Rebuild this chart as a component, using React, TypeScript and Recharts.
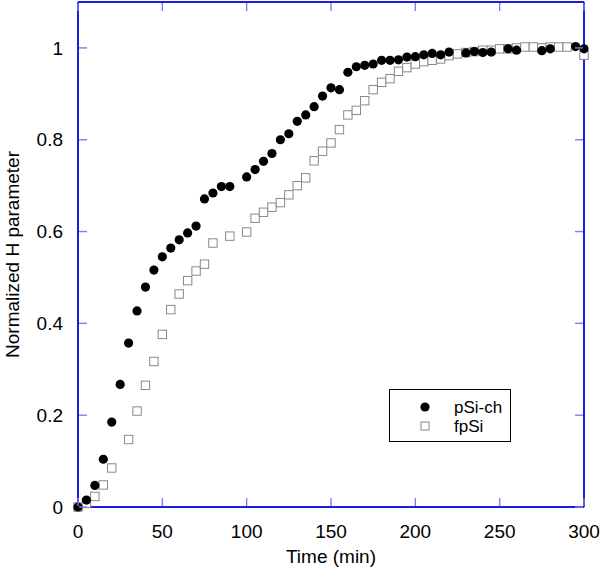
import React from "react";
import { ScatterChart, Scatter, XAxis, YAxis, Legend } from "recharts";

const pSiTime = [
  0, 5, 10, 15, 20, 25, 30, 35, 40, 45, 50, 55, 60, 65, 70, 75, 80, 85, 90,
  100, 105, 110, 115, 120, 125, 130, 135, 140, 145, 150, 155, 160, 165, 170,
  175, 180, 185, 190, 195, 200, 205, 210, 215, 220, 230, 235, 240, 245, 255,
  260, 275, 280, 295, 300,
];
const pSiValue = [
  0, 0.015, 0.047, 0.104, 0.185, 0.267, 0.357, 0.427, 0.479, 0.516, 0.545,
  0.564, 0.582, 0.597, 0.612, 0.671, 0.684, 0.698, 0.698, 0.719, 0.735, 0.753,
  0.77, 0.8, 0.813, 0.84, 0.854, 0.872, 0.895, 0.913, 0.909, 0.947, 0.959,
  0.962, 0.965, 0.973, 0.973, 0.974, 0.98, 0.981, 0.985, 0.988, 0.985, 0.991,
  0.989, 0.992, 0.99, 0.991, 0.998, 0.995, 0.994, 0.998, 1.003, 0.998,
];

const fpSiTime = [
  0, 5, 10, 15, 20, 30, 35, 40, 45, 50, 55, 60, 65, 70, 75, 80, 90, 100, 105,
  110, 115, 120, 125, 130, 135, 140, 145, 150, 155, 160, 165, 170, 175, 180,
  185, 190, 195, 200, 205, 210, 215, 220, 225, 230, 235, 240, 245, 250, 255,
  260, 265, 270, 275, 280, 285, 290, 300,
];
const fpSiValue = [
  0, 0.008, 0.023, 0.048, 0.085, 0.147, 0.209, 0.265, 0.317, 0.376, 0.43,
  0.464, 0.493, 0.514, 0.529, 0.575, 0.59, 0.599, 0.629, 0.642, 0.653, 0.663,
  0.68, 0.7, 0.717, 0.754, 0.775, 0.793, 0.822, 0.854, 0.864, 0.885, 0.909,
  0.925, 0.933, 0.949, 0.957, 0.965, 0.97, 0.973, 0.976, 0.983, 0.987, 0.99,
  0.992, 0.995, 0.995, 0.998, 0.998, 1.0, 1.002, 1.002, 1.0, 1.002, 1.002,
  1.002, 0.984,
];

const xTicks = [0, 50, 100, 150, 200, 250, 300];
const yTicks = [0, 0.2, 0.4, 0.6, 0.8, 1];

const pSiData = pSiTime.map((t, i) => ({ t, v: pSiValue[i] }));
const fpSiData = fpSiTime.map((t, i) => ({ t, v: fpSiValue[i] }));

const FONT = "'Liberation Sans', Arial, sans-serif";
const FRAME = "#1c1ce6";
const TICK = "#7f7ff2";
const TICK_LEN = 8;
const TICK_W = 1.4;
const X_GAP = 17.5;
const Y_GAP = 15;

const Dot = (props: any) => (
  <circle cx={props.cx} cy={props.cy} r={4.6} fill="#000" />
);

const Square = (props: any) => (
  <rect
    x={props.cx - 4.2}
    y={props.cy - 4.2}
    width={8.4}
    height={8.4}
    fill="#fff"
    stroke="#888"
    strokeWidth={1}
  />
);

// inward tick marks drawn as thin rects
const VTick = ({ x, y0, dir }: { x: number; y0: number; dir: number }) => (
  <rect
    x={x - TICK_W / 2}
    y={dir > 0 ? y0 : y0 - TICK_LEN}
    width={TICK_W}
    height={TICK_LEN}
    fill={TICK}
  />
);
const HTick = ({ y, x0, dir }: { y: number; x0: number; dir: number }) => (
  <rect
    x={dir > 0 ? x0 : x0 - TICK_LEN}
    y={y - TICK_W / 2}
    width={TICK_LEN}
    height={TICK_W}
    fill={TICK}
  />
);

// label plus inward tick, bottom axis
const BottomTick = (p: any) => {
  const axisY = p.y - X_GAP;
  return (
    <g>
      <VTick x={p.x} y0={axisY - 1} dir={-1} />
      <text x={p.x} y={p.y} dy="0.71em" textAnchor="middle" fontSize={19} fontFamily={FONT} fill="#000">
        {p.payload.value}
      </text>
    </g>
  );
};

// label plus inward tick, left axis
const LeftTick = (p: any) => {
  const axisX = p.x + Y_GAP;
  return (
    <g>
      <HTick y={p.y} x0={axisX + 1} dir={1} />
      <text x={p.x} y={p.y} dy="0.355em" textAnchor="end" fontSize={19} fontFamily={FONT} fill="#000">
        {p.payload.value}
      </text>
    </g>
  );
};

const TopTick = (p: any) => <VTick x={p.x} y0={p.y + 1} dir={1} />;

const RightTick = (p: any) => <HTick y={p.y} x0={p.x - 1} dir={-1} />;

const Nothing = () => <g />;

const renderLegend = () => (
  <div
    style={{
      position: "relative",
      width: 122,
      height: 53,
      boxSizing: "border-box",
      border: "1.5px solid #000",
      background: "#fff",
    }}
  >
    <svg width={120} height={50} style={{ position: "absolute", left: 0, top: 0 }}>
      <circle cx={35} cy={17} r={4.6} fill="#000" />
      <rect x={31} y={32} width={8} height={8} fill="#fff" stroke="#888" />
      <text x={64} y={23} fontSize={17} fontFamily={FONT}>pSi-ch</text>
      <text x={64} y={42} fontSize={17} fontFamily={FONT}>fpSi</text>
    </svg>
  </div>
);

export default function App() {
  return (
    <div style={{ position: "absolute", left: 0, top: 0 }}>
      <ScatterChart
        width={600}
        height={570}
        margin={{ top: 2, right: 16, bottom: 3, left: 0 }}
        style={{ fontFamily: FONT }}
      >
        <XAxis
          xAxisId="bottom"
          type="number"
          dataKey="t"
          domain={[0, 300]}
          ticks={xTicks}
          height={60}
          axisLine={{ stroke: FRAME, strokeWidth: 2 }}
          tickLine={false}
          tickSize={0}
          tickMargin={X_GAP}
          tick={BottomTick}
          label={{
            value: "Time (min)",
            position: "insideBottom",
            offset: 4,
            fill: "#000",
            fontSize: 19,
          }}
        />
        <YAxis
          yAxisId="left"
          type="number"
          dataKey="v"
          domain={[0, 1.1]}
          ticks={yTicks}
          width={78}
          axisLine={{ stroke: FRAME, strokeWidth: 2 }}
          tickLine={false}
          tickSize={0}
          tickMargin={Y_GAP}
          tick={LeftTick}
          label={{
            content: (p: any) => {
              const vb = p.viewBox;
              const cx = vb.x + 19;
              const cy = vb.y + vb.height / 2;
              return (
                <text
                  x={cx}
                  y={cy}
                  transform={`rotate(-90 ${cx} ${cy})`}
                  textAnchor="middle"
                  fontSize={19}
                  fontFamily={FONT}
                  fill="#000"
                >
                  Normalized H parameter
                </text>
              );
            },
          }}
        />
        <XAxis
          xAxisId="top"
          orientation="top"
          type="number"
          dataKey="t"
          domain={[0, 300]}
          ticks={xTicks}
          mirror
          axisLine={{ stroke: FRAME, strokeWidth: 2 }}
          tickLine={false}
          tickSize={0}
          tickMargin={0}
          tick={TopTick}
        />
        <YAxis
          yAxisId="right"
          orientation="right"
          type="number"
          dataKey="v"
          domain={[0, 1.1]}
          ticks={yTicks}
          mirror
          axisLine={{ stroke: FRAME, strokeWidth: 2 }}
          tickLine={false}
          tickSize={0}
          tickMargin={0}
          tick={RightTick}
        />
        <Legend
          layout="vertical"
          align="center"
          verticalAlign="middle"
          content={renderLegend}
          wrapperStyle={{ left: 389, top: 389, width: 122, height: 53 }}
        />
        <Scatter
          data={fpSiData}
          xAxisId="top"
          yAxisId="right"
          shape={Nothing}
          legendType="none"
          isAnimationActive={false}
        />
        <Scatter
          name="fpSi"
          data={fpSiData}
          xAxisId="bottom"
          yAxisId="left"
          shape={Square}
          isAnimationActive={false}
        />
        <Scatter
          name="pSi-ch"
          data={pSiData}
          xAxisId="bottom"
          yAxisId="left"
          shape={Dot}
          isAnimationActive={false}
        />
      </ScatterChart>
    </div>
  );
}
